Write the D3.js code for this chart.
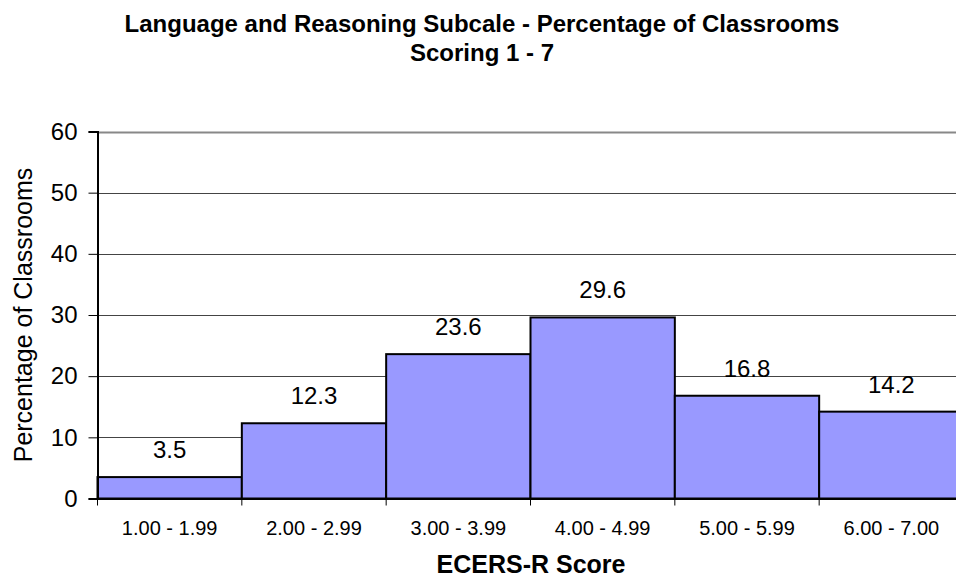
<!DOCTYPE html>
<html>
<head>
<meta charset="utf-8">
<script src="https://cdn.jsdelivr.net/npm/d3@7"></script>
<style>
  html, body { margin: 0; padding: 0; background: #fff; }
  svg { display: block; font-family: Arial, "Liberation Sans", sans-serif; }
</style>
</head>
<body>
<svg id="chart" width="956" height="579"></svg>
<script>
// Score bands and share of classrooms in each band
const categories = ["1.00 - 1.99", "2.00 - 2.99", "3.00 - 3.99", "4.00 - 4.99", "5.00 - 5.99", "6.00 - 7.00"];
const percentages = [3.5, 12.3, 23.6, 29.6, 16.8, 14.2];
const yTicks = [0, 10, 20, 30, 40, 50, 60];
const titleLines = ["Language and Reasoning Subcale - Percentage of Classrooms", "Scoring 1 - 7"];
const xTitle = "ECERS-R Score";
const yTitle = "Percentage of Classrooms";

const FONT = "Arial, 'Liberation Sans', sans-serif";
const svg = d3.select("#chart");
const plot = { left: 97.5, top: 131.5, width: 866, height: 367 };

const x = d3.scaleBand().domain(categories).range([plot.left, plot.left + plot.width]).padding(0);
const y = d3.scaleLinear().domain([0, 60]).range([plot.top + plot.height, plot.top]);

// Horizontal gridlines
svg.append("g").selectAll("line").data(yTicks.filter(d => d > 0)).join("line")
  .attr("x1", plot.left).attr("x2", plot.left + plot.width)
  .attr("y1", d => Math.round(y(d)) + 0.5).attr("y2", d => Math.round(y(d)) + 0.5)
  .attr("stroke", d => d === 60 ? "#888" : "#444")
  .attr("stroke-width", d => d === 60 ? 2 : 1);

// Bars
svg.append("g").selectAll("rect").data(categories).join("rect")
  .attr("x", d => x(d))
  .attr("y", (d, i) => y(percentages[i]))
  .attr("width", x.bandwidth())
  .attr("height", (d, i) => y(0) - y(percentages[i]))
  .attr("fill", "#9999FF")
  .attr("stroke", "#000")
  .attr("stroke-width", 2);

// Value labels
svg.append("g").selectAll("text").data(categories).join("text")
  .attr("x", d => x(d) + x.bandwidth() / 2)
  .attr("y", (d, i) => y(percentages[i]) - 19)
  .attr("text-anchor", "middle")
  .attr("font-size", 24)
  .attr("font-family", FONT)
  .attr("fill", "#000")
  .text((d, i) => percentages[i].toFixed(1));

// Y axis
const yAxis = svg.append("g")
  .attr("transform", `translate(${plot.left},0)`)
  .call(d3.axisLeft(y).tickValues(yTicks).tickSize(9).tickPadding(11).tickFormat(d3.format("d")));
yAxis.select(".domain").attr("stroke", "#000").attr("stroke-width", 2);
yAxis.selectAll(".tick line").attr("stroke", "#000");
yAxis.selectAll(".tick text").attr("font-size", 24).attr("fill", "#000").attr("font-family", FONT);

// X axis
const xAxis = svg.append("g")
  .attr("transform", `translate(0,${plot.top + plot.height})`)
  .call(d3.axisBottom(x).tickSize(0).tickPadding(22));
xAxis.select(".domain").attr("stroke", "#000").attr("stroke-width", 2);
xAxis.selectAll(".tick text").attr("font-size", 20).attr("fill", "#000").attr("font-family", FONT);

// Boundary tick marks between score bands
const bounds = categories.map(d => x(d)).concat([plot.left + plot.width]);
svg.append("g").selectAll("line").data(bounds).join("line")
  .attr("x1", d => d).attr("x2", d => d)
  .attr("y1", plot.top + plot.height).attr("y2", plot.top + plot.height + 7)
  .attr("stroke", "#000").attr("stroke-width", 1);

// Chart title
svg.append("g").selectAll("text").data(titleLines).join("text")
  .attr("x", 482)
  .attr("y", (d, i) => 32 + i * 29)
  .attr("text-anchor", "middle")
  .attr("font-size", 24)
  .attr("font-weight", "bold")
  .attr("font-family", FONT)
  .attr("fill", "#000")
  .text(d => d);

// Axis titles
svg.append("text")
  .attr("x", 531).attr("y", 573)
  .attr("text-anchor", "middle")
  .attr("font-size", 25).attr("font-weight", "bold")
  .attr("font-family", FONT)
  .text(xTitle);

svg.append("text")
  .attr("transform", `translate(32,315) rotate(-90)`)
  .attr("text-anchor", "middle")
  .attr("font-size", 25)
  .attr("font-family", FONT)
  .text(yTitle);
</script>
</body>
</html>
